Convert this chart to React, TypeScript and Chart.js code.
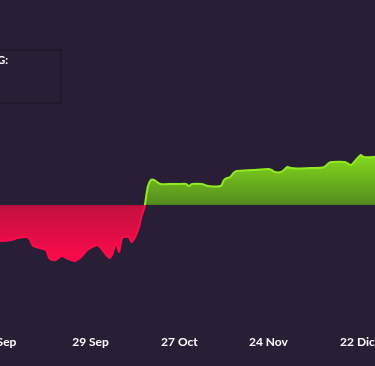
import React, { useEffect, useRef } from "react";
import { Chart, registerables } from "chart.js";

Chart.register(...registerables);

// days counted from 1 Sep
const days = [
  -20, -16, -12, -8, -4, 0, 3, 5, 8, 9, 10, 12, 14, 15, 16, 17, 19, 21, 23, 25, 27,
  30, 31, 33, 34, 35, 36, 37, 38, 40, 41, 43, 44, 45, 46, 47, 48, 50, 54, 56, 58,
  59, 60, 63, 65, 69, 70, 71, 72, 73, 74, 79, 84, 85, 86, 88, 90, 91, 93, 98, 101,
  102, 103, 104, 108, 109, 110, 113, 114, 117, 120,
];
const values = [
  -3.7, -3.4, -3.3, -3.8, -3.5, -3.6, -3.5, -3.3, -3.2, -3.5, -4.1, -4.3, -4.5, -5.3,
  -5.5, -5.5, -5.1, -5.4, -5.6, -5.2, -4.5, -4.0, -4.2, -5.0, -5.3, -4.8, -3.8, -4.7,
  -3.3, -3.2, -3.7, -2.5, -1.2, -0.2, 1.8, 2.5, 2.5, 2.1, 2.1, 2.1, 2.1, 1.9, 2.1,
  2.1, 1.9, 1.9, 2.5, 2.7, 2.8, 3.2, 3.4, 3.5, 3.6, 3.5, 3.3, 3.3, 3.8, 3.7, 3.65,
  3.7, 3.75, 3.9, 4.2, 4.3, 4.3, 4.15, 4.0, 5.0, 4.8, 4.8, 4.9,
];
const tickDays = [0, 28, 56, 84, 112];
const tickLabels = ["1 Sep", "29 Sep", "27 Oct", "24 Nov", "22 Dic"];

export default function App() {
  const ref = useRef<HTMLCanvasElement>(null);

  useEffect(() => {
    const canvas = ref.current!;
    const chart = new Chart(canvas, {
      type: "line",
      data: {
        datasets: [
          {
            data: days.map((d, i) => ({ x: d, y: values[i] })),
            borderWidth: 2,
            pointRadius: 0,
            tension: 0.25,
            borderColor: "#8ee61e",
            fill: { target: "origin", above: "#6cb81e", below: "#e0104a" },
          } as any,
        ],
      },
      options: {
        animation: false,
        responsive: false,
        layout: { padding: { top: 85, left: 0, right: 0, bottom: 0 } },
        plugins: { legend: { display: false }, tooltip: { enabled: false } },
        scales: {
          x: {
            type: "linear",
            min: -20,
            max: 138,
            grid: { display: false },
            border: { display: false },
            afterBuildTicks: (s: any) => {
              s.ticks = tickDays.map((v) => ({ value: v }));
            },
            afterFit: (s: any) => {
              s.height = 40;
            },
            ticks: {
              color: "#ffffff",
              font: { family: "Lato", size: 12, weight: "bold" },
              padding: 1,
              maxRotation: 0,
              autoSkip: false,
              callback: (v: any) => {
                const i = tickDays.indexOf(Number(v));
                return i >= 0 ? tickLabels[i] : "";
              },
            },
          },
          y: { display: false, min: -12.1, max: 12 },
        },
      },
    });

    const area = chart.chartArea;
    const y0 = chart.scales.y.getPixelForValue(0);
    const ctx = chart.ctx;
    const red = ctx.createLinearGradient(0, y0, 0, y0 + 58);
    red.addColorStop(0, "#a80e3a");
    red.addColorStop(0.04, "#c4103f");
    red.addColorStop(1, "#ff0a4b");
    const green = ctx.createLinearGradient(0, y0 - 48, 0, y0);
    green.addColorStop(0, "#82d61c");
    green.addColorStop(0.96, "#558f1f");
    green.addColorStop(1, "#4a7d1e");
    const line = ctx.createLinearGradient(0, area.top, 0, area.bottom);
    const f = (y0 - area.top) / (area.bottom - area.top);
    line.addColorStop(0, "#92ea20");
    line.addColorStop(f, "#92ea20");
    line.addColorStop(f, "#ff0a4b");
    line.addColorStop(1, "#ff0a4b");
    const ds: any = chart.data.datasets[0];
    ds.fill = { target: "origin", above: green, below: red };
    ds.borderColor = line;
    chart.update("none");

    return () => chart.destroy();
  }, []);

  return (
    <div
      style={{
        position: "fixed",
        inset: 0,
        background: "#281f36",
        overflow: "hidden",
      }}
    >
      <div style={{ position: "absolute", left: -63, top: 0, width: 504, height: 366 }}>
        <canvas ref={ref} width={504} height={366} style={{ display: "block" }} />
      </div>
      <div
        style={{
          position: "absolute",
          left: -60,
          top: 49,
          width: 122,
          height: 55,
          border: "2px solid #1f192b",
          boxSizing: "border-box",
        }}
      />
      <span
        style={{
          position: "absolute",
          right: 367,
          top: 53,
          font: "bold 11px Lato, sans-serif",
          color: "#ffffff",
          whiteSpace: "nowrap",
        }}
      >
        P&amp;G:
      </span>
    </div>
  );
}
